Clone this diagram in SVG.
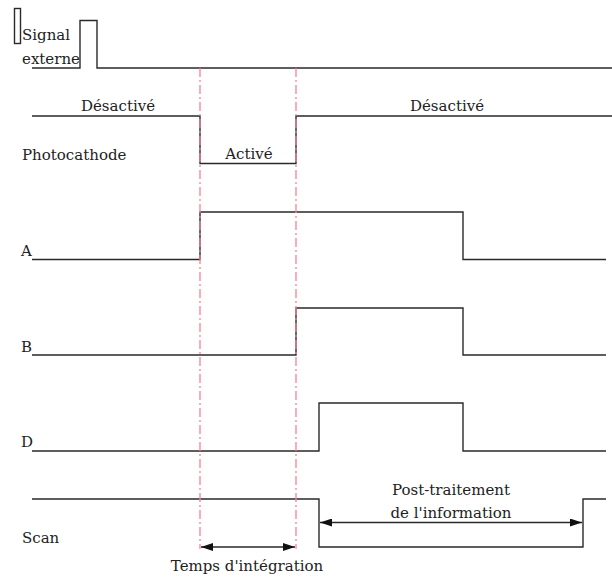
<svg xmlns="http://www.w3.org/2000/svg" width="612" height="581" viewBox="0 0 612 581">
<style>
.sig{fill:none;stroke:#2a2a2a;stroke-width:1.4}
.ref{fill:none;stroke:#ff7f92;stroke-width:1.3;stroke-dasharray:9 3 2 3}
text{font-family:"DejaVu Serif","Liberation Serif",serif;font-size:15px;fill:#222}
.c{text-anchor:middle}
</style>
<defs>
<marker id="ah" viewBox="0 0 12 8" refX="12" refY="4" markerWidth="12" markerHeight="8" markerUnits="userSpaceOnUse" orient="auto-start-reverse">
<path d="M0,0 L12,4 L0,8 Z" fill="#111"/>
</marker>
</defs>
<rect width="612" height="581" fill="#fff"/>
<g id="signal-externe">
<rect x="14.5" y="8.5" width="6" height="35" fill="none" stroke="#2a2a2a" stroke-width="1.4"/>
<polyline class="sig" points="32,68 80,68 80,20.5 97,20.5 97,68 612,68"/>
<text x="22" y="40">Signal</text>
<text x="22" y="64">externe</text>
</g>
<g id="photocathode">
<polyline class="sig" points="32,116 200,116 200,163.5 296,163.5 296,116 612,116"/>
<text x="22" y="160">Photocathode</text>
<text class="c" x="118" y="111">Désactivé</text>
<text class="c" x="249" y="159">Activé</text>
<text class="c" x="447" y="111">Désactivé</text>
</g>
<g id="A">
<polyline class="sig" points="32,259.5 200,259.5 200,212 463,212 463,259.5 606,259.5"/>
<text x="21" y="256">A</text>
</g>
<g id="B">
<polyline class="sig" points="32,355 296,355 296,308 463,308 463,355 606,355"/>
<text x="21" y="352">B</text>
</g>
<g id="D">
<polyline class="sig" points="32,451 319,451 319,403 463,403 463,451 606,451"/>
<text x="21" y="447">D</text>
</g>
<g id="scan">
<polyline class="sig" points="32,499 319,499 319,547 583,547 583,499 606,499"/>
<text x="22" y="543">Scan</text>
</g>
<g id="connectors">
<line class="ref" x1="200" y1="68" x2="200" y2="549"/>
<line class="ref" x1="296" y1="68" x2="296" y2="549"/>
<line class="sig" x1="201" y1="547" x2="295" y2="547" marker-start="url(#ah)" marker-end="url(#ah)"/>
<line class="sig" x1="320" y1="522.5" x2="582" y2="522.5" marker-start="url(#ah)" marker-end="url(#ah)"/>
</g>
<g id="labels">
<text class="c" x="247" y="571">Temps d'intégration</text>
<text class="c" x="451" y="495">Post-traitement</text>
<text class="c" x="451" y="518">de l'information</text>
</g>
</svg>
